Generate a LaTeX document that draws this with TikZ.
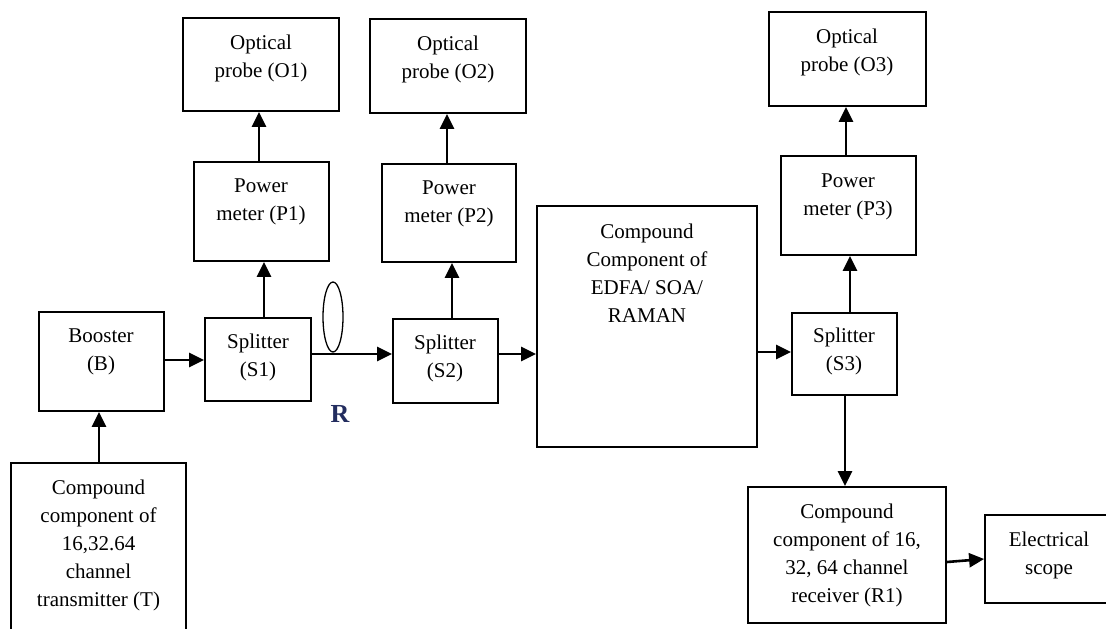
\documentclass[tikz,border=0pt]{standalone}
\usepackage{fontspec}
\setmainfont{Liberation Serif}
\usetikzlibrary{arrows.meta,shapes.geometric}
\definecolor{rcol}{RGB}{35,45,95}
\tikzset{
  box/.style={draw, line width=1.8pt, inner sep=0pt},
  txt/.style={inner sep=0pt, align=center, font=\fontsize{21}{28}\selectfont},
  conn/.style={line width=2.6pt, -{Triangle[length=15pt,width=14pt]}},
}
\newcommand{\mybox}[5]{%
  \node[box, minimum width={(#4)-(#2)}, minimum height={(#5)-(#3)}] (#1) at ({((#2)+(#4))/2},{((#3)+(#5))/2}) {};}
\begin{document}
\begin{tikzpicture}[x=1pt,y=-1pt]
\clip (0,0) rectangle (1106,629);
\fill[white] (0,0) rectangle (1106,629);
% boxes
\mybox{o1}{183}{18}{339}{111}
\mybox{p1}{194}{162}{329}{261}
\mybox{o2}{370}{19}{526}{113}
\mybox{p2}{382}{164}{516}{262}
\mybox{o3}{769}{12}{926}{106}
\mybox{p3}{781}{156}{916}{255}
\mybox{b}{39}{312}{164}{411}
\mybox{s1}{205}{318}{311}{401}
\mybox{s2}{393}{319}{498}{403}
\mybox{c}{537}{206}{757}{447}
\mybox{s3}{792}{313}{897}{395}
\mybox{t}{11}{463}{186}{645}
\mybox{r1}{748}{487}{946}{623}
\mybox{sc}{985}{515}{1113}{603}
% texts
\node[txt] (o1t) at (261,58) {Optical\\probe (O1)};
\node[txt] (p1t) at (261,202) {Power\\meter (P1)};
\node[txt] (o2t) at (448,59) {Optical\\probe (O2)};
\node[txt] (p2t) at (449,203.5) {Power\\meter (P2)};
\node[txt] (o3t) at (847,52) {Optical\\probe (O3)};
\node[txt] (p3t) at (848,197) {Power\\meter (P3)};
\node[txt] (bt) at (101,352) {Booster\\(B)};
\node[txt] (s1t) at (258,357) {Splitter\\(S1)};
\node[txt] (s2t) at (445,358) {Splitter\\(S2)};
\node[txt] (ct) at (647,273) {Compound\\Component of\\EDFA/ SOA/\\RAMAN};
\node[txt] (s3t) at (844,351) {Splitter\\(S3)};
\node[txt] (tt) at (98.5,545) {Compound\\component of\\16,32.64\\channel\\transmitter (T)};
\node[txt] (r1t) at (847,555) {Compound\\component of 16,\\32, 64 channel\\receiver (R1)};
\node[txt] (sct) at (1049,555) {Electrical\\scope};
\node[inner sep=0pt, text=rcol, font=\fontsize{26}{30}\selectfont\bfseries] (rl) at (340,414) {R};
% fibre loop
\node[draw, ellipse, line width=1.3pt, minimum width=20pt, minimum height=70pt, inner sep=0pt] (loop) at (333,317) {};
% helper coordinates
\coordinate (h354) at (0,354);
\coordinate (h352) at (0,352);
\coordinate (h360) at (0,360);
\coordinate (v99) at (99,0);
\coordinate (v264) at (264,0);
\coordinate (v259) at (259,0);
\coordinate (v452) at (452,0);
\coordinate (v447) at (447,0);
\coordinate (v850) at (850,0);
\coordinate (v846) at (846,0);
\coordinate (v845) at (845,0);
% connectors
\draw[conn] (t.north -| v99) -- (b.south -| v99);
\draw[conn] (b.east |- h360) -- (s1.west |- h360);
\draw[conn] (s1.east |- h354) -- (s2.west |- h354);
\draw[conn] (s2.east |- h354) -- (c.west |- h354);
\draw[conn] (c.east |- h352) -- (s3.west |- h352);
\draw[conn] (s1.north -| v264) -- (p1.south -| v264);
\draw[conn] (p1.north -| v259) -- (o1.south -| v259);
\draw[conn] (s2.north -| v452) -- (p2.south -| v452);
\draw[conn] (p2.north -| v447) -- (o2.south -| v447);
\draw[conn] (s3.north -| v850) -- (p3.south -| v850);
\draw[conn] (p3.north -| v846) -- (o3.south -| v846);
\draw[conn] (s3.south -| v845) -- (r1.north -| v845);
\draw[conn] ([yshift=-7pt]r1.east) -- (sc.west);
\end{tikzpicture}
\end{document}
